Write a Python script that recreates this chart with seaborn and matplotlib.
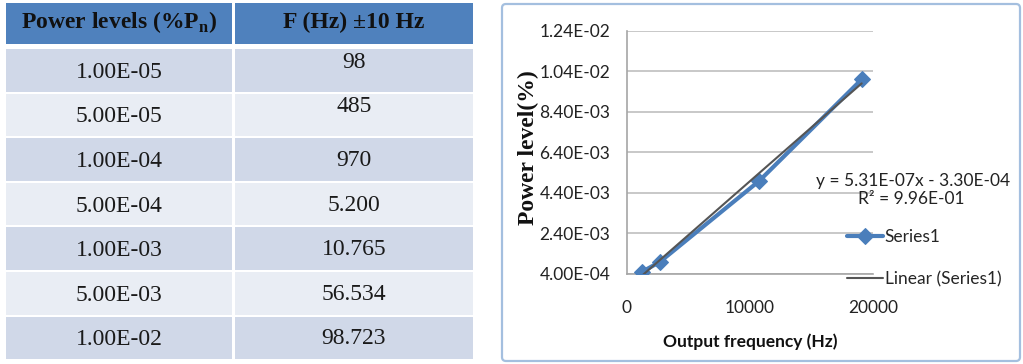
import numpy as np
import pandas as pd
import matplotlib
matplotlib.use("Agg")
import matplotlib.pyplot as plt
import seaborn as sns
from matplotlib.patches import Rectangle, FancyBboxPatch
from matplotlib.ticker import FixedLocator, FuncFormatter

# ---- table contents ----
table_headers = ["Power levels (%P$_{\\mathbf{n}}$)", "F (Hz) \u00b110 Hz"]
power_levels = ["1.00E-05", "5.00E-05", "1.00E-04", "5.00E-04",
                "1.00E-03", "5.00E-03", "1.00E-02"]
frequencies = ["98", "485", "970", "5.200", "10.765", "56.534", "98.723"]

# ---- chart series ----
output_freq_hz = [1200, 2680, 10765, 19080]
power_level_pct = [5.0e-4, 1.0e-3, 5.0e-3, 1.0e-2]
fit_slope = 5.31e-07
fit_intercept = -3.30e-04
fit_r2 = 9.96e-01
y_ticks = [4.0e-4, 2.4e-3, 4.4e-3, 6.4e-3, 8.4e-3, 1.04e-2, 1.24e-2]
x_ticks = [0, 10000, 20000]

sns.set_style("white")
plt.rcParams["mathtext.fontset"] = "custom"
plt.rcParams["mathtext.rm"] = "Liberation Serif"
plt.rcParams["mathtext.bf"] = "Liberation Serif:bold"
plt.rcParams["font.family"] = ["Lato", "DejaVu Sans"]

W, H = 1023, 364
fig = plt.figure(figsize=(W / 100, H / 100), dpi=100)
fig.patch.set_facecolor("white")

# ---- background layer in pixel coordinates (table + chart frame) ----
bg = fig.add_axes([0, 0, 1, 1], zorder=0)
bg.set_xlim(0, W)
bg.set_ylim(H, 0)
bg.axis("off")

serif = "Liberation Serif"
col_edges = [(6, 232), (235, 473)]
header_top, header_bot = 3, 44
row_top0, row_h, gap = 49, 44.6, 2

for (x0, x1), label in zip(col_edges, table_headers):
    bg.add_patch(Rectangle((x0, header_top), x1 - x0, header_bot - header_top,
                           facecolor="#4f81bd", edgecolor="none"))
    bg.text((x0 + x1) / 2, (header_top + header_bot) / 2 - 1, label,
            family=serif, fontweight="bold", fontsize=17, color="#111111",
            ha="center", va="center")

for i, (p, f) in enumerate(zip(power_levels, frequencies)):
    y0 = row_top0 + i * row_h
    fc = "#d0d8e8" if i % 2 == 0 else "#e9edf4"
    for (x0, x1) in col_edges:
        bg.add_patch(Rectangle((x0, y0), x1 - x0, row_h - gap,
                               facecolor=fc, edgecolor="none"))
    yc = y0 + (row_h - gap) / 2
    bg.text((col_edges[0][0] + col_edges[0][1]) / 2, yc + 2, p,
            family=serif, fontsize=17, color="#1a1a1a", ha="center", va="center")
    dy = -8 if i < 2 else 1
    bg.text((col_edges[1][0] + col_edges[1][1]) / 2, yc + dy, f,
            family=serif, fontsize=17, color="#1a1a1a", ha="center", va="center")

bg.add_patch(FancyBboxPatch((502, 4), 518, 357,
                            boxstyle="round,pad=0,rounding_size=4",
                            facecolor="white", edgecolor="#a4bfdf", linewidth=1.6))

# ---- chart ----
ax = fig.add_axes([627 / W, 1 - 274 / H, 246 / W, 243.3 / H], zorder=2)
ax.set_facecolor("none")

df = pd.DataFrame({"freq": output_freq_hz, "power": power_level_pct})
fit_x = np.array([min(output_freq_hz), max(output_freq_hz)], dtype=float)
fit_df = pd.DataFrame({"freq": fit_x, "power": fit_slope * fit_x + fit_intercept})

sns.lineplot(data=df, x="freq", y="power", ax=ax, color="#4a7ebb", linewidth=3,
             marker="D", markersize=8.5, markeredgecolor="#4a7ebb",
             label="Series1", zorder=3)
sns.lineplot(data=fit_df, x="freq", y="power", ax=ax, color="#555555",
             linewidth=1.5, label="Linear (Series1)", zorder=4)

ax.set_xlim(0, 20000)
ax.set_ylim(4.0e-4, 1.24e-2)
ax.xaxis.set_major_locator(FixedLocator(x_ticks))
ax.yaxis.set_major_locator(FixedLocator(y_ticks))
ax.yaxis.set_major_formatter(FuncFormatter(lambda v, _: f"{v:.2E}"))
ax.xaxis.set_major_formatter(FuncFormatter(lambda v, _: f"{v:.0f}"))
ax.tick_params(axis="both", length=0, labelsize=12.5, colors="#222222")
ax.tick_params(axis="x", pad=19)
ax.tick_params(axis="y", pad=12)
ax.set_xlabel("")
ax.set_ylabel("")
ax.grid(axis="y", color="#bfbfbf", linewidth=1.2)
ax.grid(axis="x", visible=False)
for side in ("top", "right"):
    ax.spines[side].set_visible(False)
for side in ("left", "bottom"):
    ax.spines[side].set_color("#a6a6a6")
    ax.spines[side].set_linewidth(1.2)

ax.legend(loc="center left", bbox_to_anchor=(838 / W, 1 - 258 / H),
          bbox_transform=fig.transFigure, frameon=False, fontsize=12.5,
          handlelength=2.1, handletextpad=0.1, labelspacing=1.5, borderpad=0)

fig.text(913 / W, 1 - 181 / H, f"y = {fit_slope:.2E}x - {abs(fit_intercept):.2E}",
         fontsize=12.5, color="#222222", ha="center", va="center")
fig.text(911 / W, 1 - 199 / H, f"R\u00b2 = {fit_r2:.2E}",
         fontsize=12.5, color="#222222", ha="center", va="center")

fig.text(528 / W, 1 - 148 / H, "Power level(%)", family=serif, fontweight="bold",
         fontsize=17, rotation=90, ha="center", va="center", color="#111111")
fig.text(750 / W, 1 - 342 / H, "Output frequency (Hz)", fontweight="bold",
         fontsize=12.5, ha="center", va="center", color="#111111")

fig.savefig("out.png", dpi=100, facecolor="white")
